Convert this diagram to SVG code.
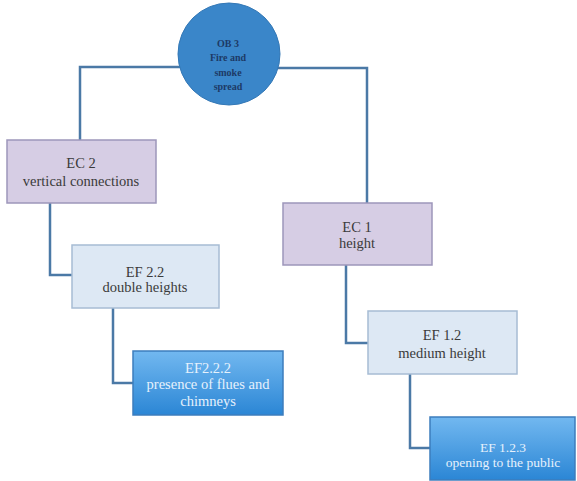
<svg xmlns="http://www.w3.org/2000/svg" width="577" height="481" viewBox="0 0 577 481" font-family="'Liberation Serif', 'DejaVu Serif', serif">
<style>
text{font-family:"Liberation Serif","DejaVu Serif",serif;text-anchor:middle}
.t{font-size:14.5px;fill:#3a3a3a}
.w{font-size:14.5px;fill:#e6f1fc}
.c{font-size:10px;font-weight:bold;fill:#1d3a66}
.ec{fill:#d6cde4;stroke:#9d96ba;stroke-width:1.5}
.ef{fill:#dde8f4;stroke:#a7bcd4;stroke-width:1.5}
.eb{fill:url(#g);stroke:#3d7dbd;stroke-width:1.5}
.con{fill:none;stroke:#4b79a6;stroke-width:2.5}
</style>
<defs>
<linearGradient id="g" x1="0" y1="0" x2="0" y2="1">
<stop offset="0" stop-color="#72b8f0"/>
<stop offset="1" stop-color="#2b86d5"/>
</linearGradient>
</defs>
<rect width="577" height="481" fill="#ffffff"/>
<g id="connectors">
<polyline class="con" points="180,67 80,67 80,140"/>
<polyline class="con" points="278,68 367,68 367,203"/>
<polyline class="con" points="50,203 50,275 72,275"/>
<polyline class="con" points="113,308 113,383 133,383"/>
<polyline class="con" points="346,265 346,343 368,343"/>
<polyline class="con" points="410,374 410,448 430,448"/>
</g>
<g id="ob3">
<circle cx="229" cy="54" r="51" fill="#3a86c9" stroke="#3478b6" stroke-width="1"/>
<text class="c" x="228" y="47">OB 3</text>
<text class="c" x="228" y="61">Fire and</text>
<text class="c" x="228" y="76">smoke</text>
<text class="c" x="228" y="90">spread</text>
</g>
<g id="ec2">
<rect class="ec" x="7" y="140" width="149" height="63"/>
<text class="t" x="81" y="168">EC 2</text>
<text class="t" x="81" y="186">vertical connections</text>
</g>
<g id="ef22">
<rect class="ef" x="72" y="245" width="147" height="63"/>
<text class="t" x="145" y="277">EF 2.2</text>
<text class="t" x="145" y="292">double heights</text>
</g>
<g id="ef222">
<rect class="eb" x="133" y="351" width="150" height="64"/>
<text class="w" x="208" y="373">EF2.2.2</text>
<text class="w" x="208" y="389">presence of flues and</text>
<text class="w" x="208" y="406">chimneys</text>
</g>
<g id="ec1">
<rect class="ec" x="283" y="203" width="149" height="62"/>
<text class="t" x="357" y="232">EC 1</text>
<text class="t" x="357" y="248">height</text>
</g>
<g id="ef12">
<rect class="ef" x="368" y="311" width="149" height="63"/>
<text class="t" x="442" y="340">EF 1.2</text>
<text class="t" x="442" y="358">medium height</text>
</g>
<g id="ef123">
<rect class="eb" x="430" y="417" width="145" height="63"/>
<text class="w" x="503" y="452" style="font-size:13.5px">EF 1.2.3</text>
<text class="w" x="503" y="467" style="font-size:13.5px">opening to the public</text>
</g>
</svg>
